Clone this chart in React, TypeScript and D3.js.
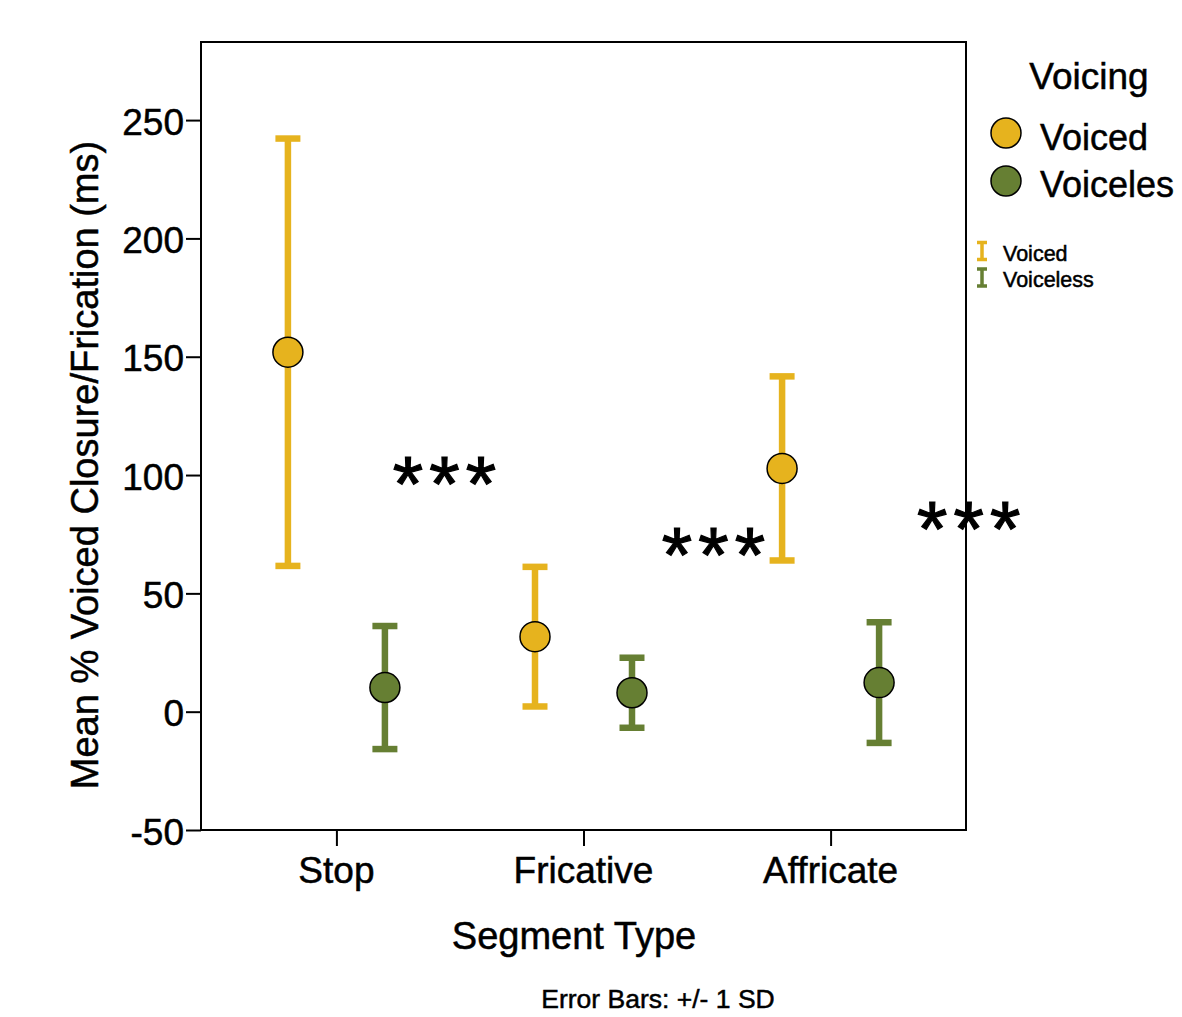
import React, { useEffect, useRef } from "react";
import * as d3 from "d3";

// Mean % voiced closure/frication by segment type and voicing (+/- 1 SD)
const CATEGORIES = ["Stop", "Fricative", "Affricate"];
const VOICING = ["Voiced", "Voiceless"];
const VOICED_MEAN = [151.9, 31.7, 102.8];
const VOICED_SD = [90.3, 29.5, 38.9];
const VOICELESS_MEAN = [10.2, 8.0, 12.3];
const VOICELESS_SD = [26.0, 14.8, 25.5];
const Y_TICKS = [-50, 0, 50, 100, 150, 200, 250];
const COLORS = ["#E6B31E", "#667F33"];

// significance markers: placed between categories (offset in category steps)
const SIG_MARKS = [
  { cat: "Stop", offset: 0.437, value: 101.5 },
  { cat: "Fricative", offset: 0.526, value: 71.5 },
  { cat: "Affricate", offset: 0.559, value: 82.5 },
];

export default function App() {
  const svgRef = useRef<SVGSVGElement | null>(null);

  useEffect(() => {
    const width = 1182;
    const height = 1017;
    const margin = { top: 42, right: 216, bottom: 187, left: 201 };
    const innerW = width - margin.left - margin.right;
    const innerH = height - margin.top - margin.bottom;
    const font = "'Liberation Sans', Arial, sans-serif";

    const svg = d3.select(svgRef.current);
    svg.selectAll("*").remove();
    svg.attr("width", width).attr("height", height).attr("viewBox", `0 0 ${width} ${height}`)
      .style("font-family", font);

    const g = svg.append("g").attr("transform", `translate(${margin.left},${margin.top})`);

    const x = d3.scalePoint<string>().domain(CATEGORIES).range([0, innerW]).padding(0.548);
    const sub = d3.scalePoint<string>().domain(VOICING).range([-48.5, 48.5]);
    const y = d3.scaleLinear().domain([-50, 283]).range([innerH, 0]);

    // frame
    g.append("rect")
      .attr("x", 0).attr("y", 0).attr("width", innerW).attr("height", innerH)
      .attr("fill", "none").attr("stroke", "#000").attr("stroke-width", 2);

    // y axis
    g.append("g")
      .call(d3.axisLeft(y).tickValues(Y_TICKS).tickSize(15).tickFormat(() => ""))
      .call(a => a.select(".domain").remove())
      .call(a => a.selectAll(".tick line").attr("stroke", "#000").attr("stroke-width", 2));
    g.selectAll("text.ylab").data(Y_TICKS).join("text")
      .attr("class", "ylab")
      .attr("x", -17).attr("y", d => y(d) + 14.5)
      .attr("text-anchor", "end")
      .style("font-size", "37px")
      .text(d => String(d));

    // x axis
    g.append("g")
      .attr("transform", `translate(0,${innerH})`)
      .call(d3.axisBottom(x).tickSize(16).tickFormat(() => ""))
      .call(a => a.select(".domain").remove())
      .call(a => a.selectAll(".tick line").attr("stroke", "#000").attr("stroke-width", 2));
    g.selectAll("text.xlab").data(CATEGORIES).join("text")
      .attr("class", "xlab")
      .attr("x", d => x(d) ?? 0).attr("y", innerH + 53)
      .attr("text-anchor", "middle")
      .style("font-size", "37px")
      .text(d => d);

    // axis titles
    g.append("text")
      .attr("transform", `translate(${-103},${innerH / 2 + 29}) rotate(-90)`)
      .attr("text-anchor", "middle")
      .style("font-size", "38px")
      .text("Mean % Voiced Closure/Frication (ms)");

    g.append("text")
      .attr("x", innerW / 2 - 9.5).attr("y", innerH + 119)
      .attr("text-anchor", "middle")
      .style("font-size", "38px")
      .text("Segment Type");

    g.append("text")
      .attr("x", innerW / 2 + 74.5).attr("y", innerH + 178)
      .attr("text-anchor", "middle")
      .style("font-size", "26.5px")
      .text("Error Bars: +/- 1 SD");

    // error bars and points
    const series = [
      { key: VOICING[0], mean: VOICED_MEAN, sd: VOICED_SD, color: COLORS[0] },
      { key: VOICING[1], mean: VOICELESS_MEAN, sd: VOICELESS_SD, color: COLORS[1] },
    ];
    const capW = 12.5;
    series.forEach(s => {
      const pts = CATEGORIES.map((c, i) => ({ cx: (x(c) ?? 0) + (sub(s.key) ?? 0), m: s.mean[i], sd: s.sd[i] }));
      const eg = g.append("g");
      eg.selectAll("line.v").data(pts).join("line")
        .attr("x1", d => d.cx).attr("x2", d => d.cx)
        .attr("y1", d => y(d.m + d.sd)).attr("y2", d => y(d.m - d.sd))
        .attr("stroke", s.color).attr("stroke-width", 6.5);
      [1, -1].forEach(sign => {
        eg.selectAll(`line.cap${sign}`).data(pts).join("line")
          .attr("x1", d => d.cx - capW).attr("x2", d => d.cx + capW)
          .attr("y1", d => y(d.m + sign * d.sd)).attr("y2", d => y(d.m + sign * d.sd))
          .attr("stroke", s.color).attr("stroke-width", 6.5);
      });
      eg.selectAll("circle").data(pts).join("circle")
        .attr("cx", d => d.cx).attr("cy", d => y(d.m)).attr("r", 15)
        .attr("fill", s.color).attr("stroke", "#000").attr("stroke-width", 1.5);
    });

    // significance asterisks
    const step = x.step();
    SIG_MARKS.forEach(m => {
      const cx = (x(m.cat) ?? 0) + m.offset * step;
      [-1, 0, 1].forEach(k => {
        g.append("text")
          .attr("class", "sig")
          .attr("x", cx + k * 36.5).attr("y", y(m.value) + 40)
          .attr("text-anchor", "middle")
          .style("font-size", "78px")
          .text("*");
      });
    });

    // legend
    const lg = svg.append("g");
    lg.append("text")
      .attr("x", 1089).attr("y", 89).attr("text-anchor", "middle")
      .style("font-size", "37px")
      .text("Voicing");
    const legendNames = ["Voiced", "Voiceles"];
    legendNames.forEach((name, i) => {
      lg.append("circle")
        .attr("cx", 1006).attr("cy", 133 + i * 48).attr("r", 15)
        .attr("fill", COLORS[i]).attr("stroke", "#000").attr("stroke-width", 1.5);
      lg.append("text")
        .attr("x", 1040).attr("y", 150 + i * 47)
        .style("font-size", "36px")
        .text(name);
    });
    VOICING.forEach((name, i) => {
      const cy = 251 + i * 26.5;
      lg.append("path")
        .attr("d", `M977,${cy - 8.5}h10M982,${cy - 8.5}v17M977,${cy + 8.5}h10`)
        .attr("stroke", COLORS[i]).attr("stroke-width", 3.5).attr("fill", "none");
      lg.append("text")
        .attr("x", 1003).attr("y", cy + 9.5)
        .style("font-size", "21.5px")
        .text(name);
    });

    // slightly heavier text, like the original export
    svg.selectAll("text").attr("stroke", "#000").attr("stroke-width", 0.5);
    svg.selectAll("text.sig").attr("stroke-width", 1.2);
  }, []);

  return (
    <div style={{ margin: -8, background: "#fff" }}>
      <svg ref={svgRef} style={{ display: "block" }} />
    </div>
  );
}
